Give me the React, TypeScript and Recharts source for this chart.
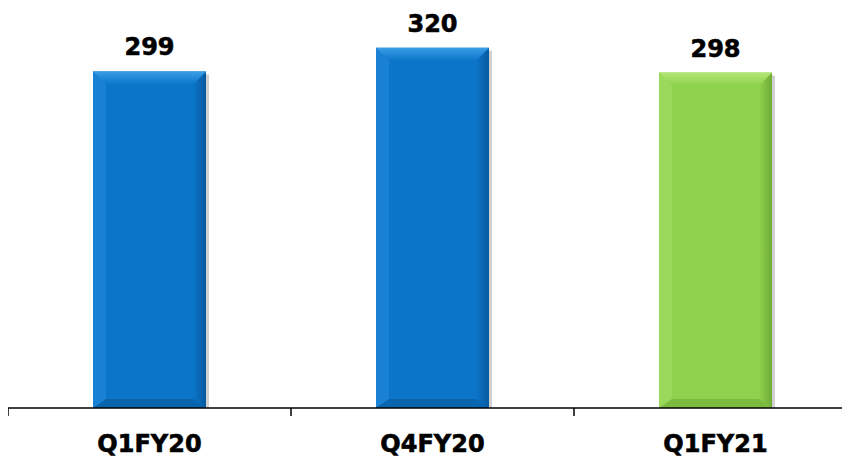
import { BarChart, Bar, XAxis, YAxis, LabelList } from 'recharts';

const categories = ['Q1FY20', 'Q4FY20', 'Q1FY21'];
const values = [299, 320, 298];
const barTones = ['blue', 'blue', 'green'];

const palette: Record<string, { face: string; top: string; left: string; right: string; bottom: string }> = {
  blue: { face: '#0b76c9', top: '#3b9de6', left: '#1982d4', right: '#08599f', bottom: '#0964ae' },
  green: { face: '#8fd24d', top: '#b2e676', left: '#9bd95d', right: '#6fab36', bottom: '#7bbc40' },
};

const data = categories.map((label, i) => ({ label, value: values[i], tone: barTones[i] }));

const WIDTH = 849;
const HEIGHT = 451;
const MARGIN = { top: 6, right: 0, bottom: 0, left: 0 };
const BAND = (WIDTH - MARGIN.left - MARGIN.right) / categories.length;
const FONT = '"DejaVu Sans", Verdana, sans-serif';

// bevelled bar like the office chart style
function BevelBar(props: any) {
  const { x, y, width: w, height: h, payload } = props;
  const tone = payload.tone;
  const c = palette[tone];
  const b = Math.min(13, w / 2, h / 2);
  const bb = Math.min(9, h / 2);
  return (
    <g>
      <defs>
        <linearGradient id={`top-${tone}`} x1="0" y1="0" x2="0" y2="1">
          <stop offset="0%" stopColor={c.top} />
          <stop offset="100%" stopColor={c.face} />
        </linearGradient>
        <linearGradient id={`right-${tone}`} x1="0" y1="0" x2="1" y2="0">
          <stop offset="0%" stopColor={c.face} />
          <stop offset="100%" stopColor={c.right} />
        </linearGradient>
      </defs>
      <rect x={x + w} y={y + 3} width={3} height={h - 3} fill="#000" opacity={0.18} />
      <rect x={x} y={y} width={w} height={h} fill={c.face} />
      <polygon points={`${x},${y} ${x + b},${y + b} ${x + b},${y + h - bb} ${x},${y + h}`} fill={c.left} />
      <polygon points={`${x + w},${y} ${x + w},${y + h} ${x + w - b},${y + h - bb} ${x + w - b},${y + b}`} fill={`url(#right-${tone})`} />
      <polygon points={`${x},${y} ${x + w},${y} ${x + w - b},${y + b} ${x + b},${y + b}`} fill={`url(#top-${tone})`} />
      <polygon points={`${x},${y + h} ${x + b},${y + h - bb} ${x + w - b},${y + h - bb} ${x + w},${y + h}`} fill={c.bottom} />
    </g>
  );
}

// category label plus tick mark at the left edge of each band
function CategoryTick(props: any) {
  const { x, y, payload } = props;
  const left = x - BAND / 2;
  return (
    <g>
      <line x1={left} y1={y - 8} x2={left} y2={y} stroke="#000" strokeWidth={1.5} />
      <text x={x} y={y} dy={36} textAnchor="middle" fontFamily={FONT} fontWeight="bold" fontSize={24} fill="#000" stroke="#000" strokeWidth={0.6}>
        {payload.value}
      </text>
    </g>
  );
}

export default function App() {
  return (
    <div style={{ width: 842, height: HEIGHT, overflow: 'hidden' }}>
      <BarChart width={WIDTH} height={HEIGHT} data={data} margin={MARGIN} barCategoryGap="20%">
        <XAxis
          dataKey="label"
          axisLine={{ stroke: '#000', strokeWidth: 1.5 }}
          tickLine={false}
          tickSize={8}
          tickMargin={0}
          height={51}
          interval={0}
          tick={<CategoryTick />}
        />
        <YAxis hide domain={[0, 350]} />
        <Bar dataKey="value" barSize={113} shape={<BevelBar />} isAnimationActive={false}>
          <LabelList
            dataKey="value"
            position="top"
            offset={16}
            style={{ fontFamily: FONT, fontWeight: 'bold', fontSize: 24, fill: '#000', stroke: '#000', strokeWidth: 0.6 }}
          />
        </Bar>
      </BarChart>
    </div>
  );
}
